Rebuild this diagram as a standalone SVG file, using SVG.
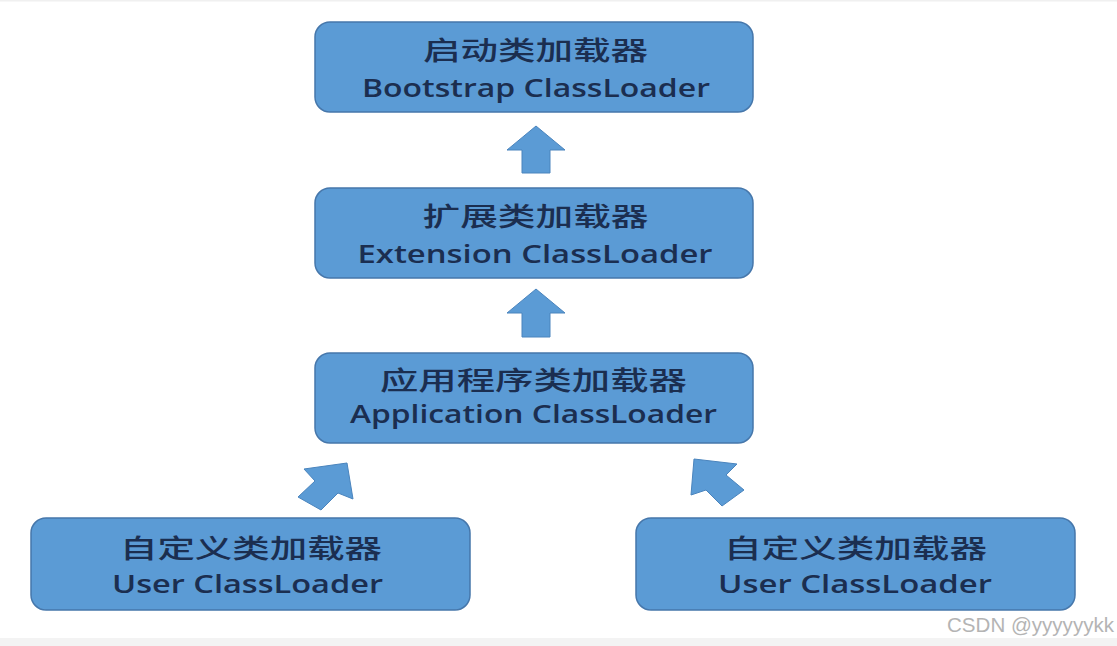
<svg xmlns="http://www.w3.org/2000/svg" width="1117" height="646" viewBox="0 0 1117 646">
<style>
.box{fill:#5b9bd5;stroke:#4677ab;stroke-width:1.5}
.zh{font-family:"Noto Sans CJK SC","Noto Sans",sans-serif;font-size:26px;fill:#1b2e50;font-weight:500}
.en{font-family:"Open Sans","Noto Sans","Noto Sans CJK SC",sans-serif;font-size:26px;fill:#1b2e50;font-weight:600}
.arr{fill:#5b9bd5;stroke:#4a84bd;stroke-width:1}
.wm{font-family:"Liberation Sans",Arial,sans-serif;font-size:20px;fill:#b4b4b4}
</style>
<rect x="0" y="0" width="1117" height="646" fill="#ffffff"/>
<rect x="0" y="0" width="1117" height="1.5" fill="#f0f0f0"/>
<rect x="0" y="638" width="1117" height="8" fill="#f3f3f3"/>
<g id="bootstrap">
<rect class="box" x="315" y="22" width="438" height="90" rx="15"/>
<text class="zh" x="535.5" y="60" text-anchor="middle" textLength="225" lengthAdjust="spacingAndGlyphs">启动类加载器</text>
<text class="en" x="536" y="97" text-anchor="middle" textLength="348" lengthAdjust="spacingAndGlyphs">Bootstrap  ClassLoader</text>
</g>
<g id="extension">
<rect class="box" x="315" y="188" width="438" height="90" rx="15"/>
<text class="zh" x="535.5" y="226" text-anchor="middle" textLength="226" lengthAdjust="spacingAndGlyphs">扩展类加载器</text>
<text class="en" x="535" y="263" text-anchor="middle" textLength="355" lengthAdjust="spacingAndGlyphs">Extension  ClassLoader</text>
</g>
<g id="application">
<rect class="box" x="315" y="353" width="438" height="90" rx="15"/>
<text class="zh" x="533.5" y="390" text-anchor="middle" textLength="307" lengthAdjust="spacingAndGlyphs">应用程序类加载器</text>
<text class="en" x="533.5" y="423" text-anchor="middle" textLength="367" lengthAdjust="spacingAndGlyphs">Application ClassLoader</text>
</g>
<g id="user-left">
<rect class="box" x="31" y="518" width="439" height="92" rx="15"/>
<text class="zh" x="251" y="558" text-anchor="middle" textLength="262" lengthAdjust="spacingAndGlyphs">自定义类加载器</text>
<text class="en" x="247.5" y="593" text-anchor="middle" textLength="271" lengthAdjust="spacingAndGlyphs">User  ClassLoader</text>
</g>
<g id="user-right">
<rect class="box" x="636" y="518" width="439" height="92" rx="15"/>
<text class="zh" x="855.5" y="558" text-anchor="middle" textLength="263" lengthAdjust="spacingAndGlyphs">自定义类加载器</text>
<text class="en" x="855" y="593" text-anchor="middle" textLength="274" lengthAdjust="spacingAndGlyphs">User  ClassLoader</text>
</g>
<g id="connectors">
<polygon class="arr" points="536,126 565,150 550,150 550,173 522,173 522,150 507,150"/>
<polygon class="arr" points="536,289 565,313 550,313 550,337 522,337 522,313 507,313"/>
<polygon class="arr" points="347,463 304,469 315,481 298,497 321,510 338,493 353,499"/>
<polygon class="arr" points="694,459 737,464 726,475 744,490 722,506 706,490 691,495"/>
</g>
<text class="wm" x="947" y="632" textLength="167" lengthAdjust="spacingAndGlyphs">CSDN @yyyyyykk</text>
</svg>
